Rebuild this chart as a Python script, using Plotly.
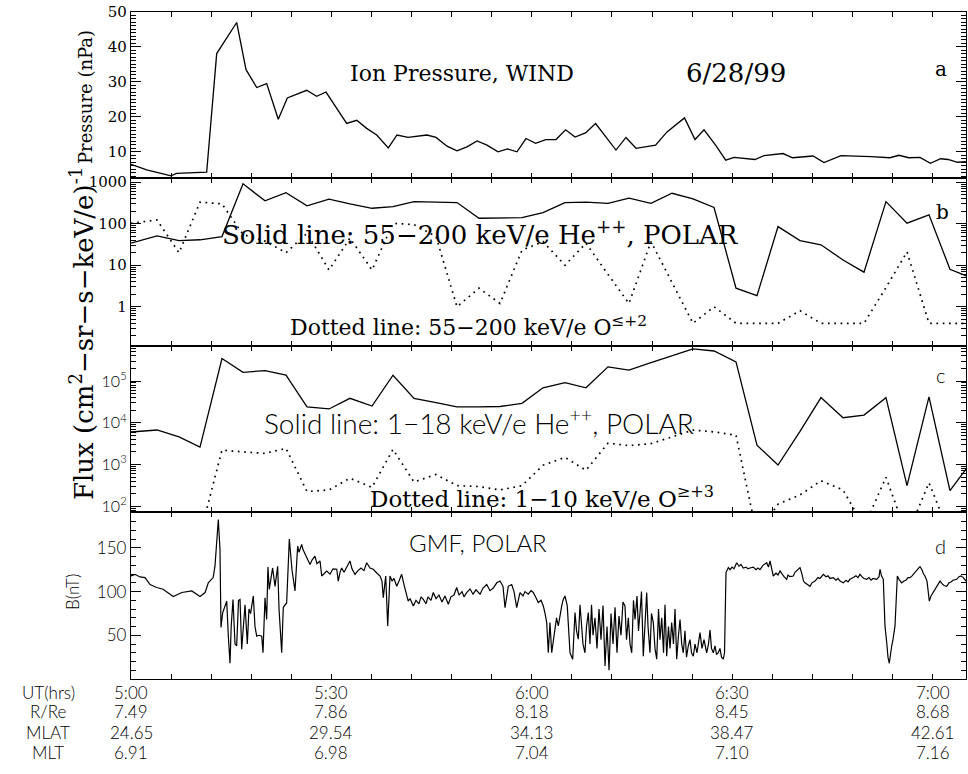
import plotly.graph_objects as go
from plotly.subplots import make_subplots

# ---------------- data (time in minutes after 05:00 UT) ----------------
pressure_time = [0.0, 2.35, 5.99, 6.84, 11.33, 12.83, 15.82, 17.22, 18.82, 20.31,
                 22.05, 23.4, 26.3, 27.8, 29.19, 32.29, 33.79, 35.28, 36.78, 38.52,
                 39.82, 41.47, 44.31, 45.66, 47.31, 48.8, 50.3, 51.8, 53.29, 54.94,
                 56.36, 57.78, 59.13, 60.57, 62.08, 63.62, 65.06, 66.47, 68.04, 69.55,
                 72.6, 74.1, 75.6, 78.53, 80.24, 81.59, 82.86, 84.43, 85.78, 87.51,
                 89.03, 90.27, 93.41, 94.76, 96.21, 97.6, 99.03, 102.1, 103.74, 105.19,
                 106.29, 110.78, 113.62, 114.97, 116.42, 118.11, 119.67, 121.2, 122.31, 123.73,
                 125.0]
pressure_npa = [6.4, 4.8, 3.1, 3.8, 4.2, 38.1, 47.0, 33.5, 28.4, 29.5,
                19.3, 25.4, 27.6, 25.9, 27.1, 18.1, 19.0, 16.7, 14.8, 11.1,
                14.8, 14.1, 14.8, 14.1, 11.6, 10.3, 11.4, 13.1, 11.9, 10.0,
                10.8, 10.0, 13.8, 12.4, 13.5, 13.5, 16.3, 14.2, 15.4, 18.1,
                10.5, 14.1, 11.0, 11.9, 15.7, 17.9, 19.7, 13.5, 16.3, 11.9,
                7.6, 8.4, 7.8, 8.9, 9.1, 9.5, 8.3, 8.8, 6.9, 8.1,
                8.9, 8.6, 8.3, 9.0, 8.3, 8.4, 6.7, 8.0, 7.8, 7.0,
                7.2]

flux_time = [0.0, 3.89, 7.19, 10.33, 13.62, 16.77, 20.06, 23.2, 26.35, 29.64,
             32.78, 36.08, 39.22, 42.37, 45.66, 48.8, 52.1, 55.24, 58.53, 61.68,
             64.97, 68.11, 71.41, 74.55, 77.84, 80.99, 84.13, 87.28, 90.57, 93.71,
             96.86, 100.15, 103.29, 106.59, 109.73, 113.02, 116.17, 119.46, 122.6, 125.75]

# 55-200 keV/e He++ (solid) and O<=+2 (dotted)
he_high_flux = [34, 51, 39, 41, 49, 910, 355, 560, 270, 390,
                300, 235, 257, 340, 330, 323, 135, 138, 140, 185,
                323, 330, 310, 410, 310, 540, 395, 245, 2.8, 1.85,
                85, 39, 31, 13.4, 6.8, 340, 103, 163, 8, 5.0]
o_high_flux = [102, 123, 20, 330, 300, 55, 38, 20, 59, 7.7,
               45, 7.7, 102, 95, 49, 1.0, 2.8, 1.2, 23, 37,
               10, 34, 6, 1.2, 37, 4, 0.4, 1.0, 0.4, 0.4,
               0.4, 0.8, 0.4, 0.4, 0.4, 2.9, 21, 0.4, 0.4, 0.4]

# 1-18 keV/e He++ (solid) and 1-10 keV/e O>=+3 (dotted)
he_low_flux = [6000, 6700, 4600, 2600, 347000, 162000, 178000, 138000, 24000, 21400,
               38500, 25100, 138000, 38500, 30200, 24000, 24000, 24500, 29200, 69000,
               91000, 69000, 219000, 182000, 275000, 407000, 589000, 525000, 288000, 2900,
               970, 6200, 40000, 13200, 15300, 40000, 310, 41700, 235, 1120]
o_low_flux = [10, 10, 10, 20, 2210, 2000, 1840, 2430, 224, 245,
              468, 282, 2290, 380, 575, 310, 295, 245, 310, 955,
              1480, 725, 3240, 2820, 3160, 4570, 6680, 6030, 5010, 20,
              112, 186, 407, 245, 32, 490, 20, 363, 20, 10]

gmf_time = [0, 0.6, 1.35, 2.1, 2.85, 3.85, 4.8, 6.33, 7.6, 9.1,
            10.33, 11.1, 11.57, 12.3, 12.57, 13.07, 13.32, 13.47, 13.73, 14.33,
            14.57, 14.82, 15.0, 15.27, 15.57, 15.82, 16.1, 16.32, 16.57, 16.84,
            17.07, 17.41, 17.66, 17.9, 18.31, 18.56, 18.82, 19.16, 19.57, 19.76,
            20.06, 20.31, 20.5, 20.7, 21.2, 21.56, 21.96, 22.16, 22.56, 22.8,
            23.3, 23.7, 24.1, 24.55, 24.95, 25.15, 25.55, 25.75, 26.05, 26.35,
            26.8, 27.1, 27.54, 27.84, 28.3, 28.55, 28.9, 29.3, 29.8, 30.24,
            30.8, 31.03, 31.29, 31.54, 31.89, 32.34, 32.78, 33.08, 33.53, 33.98,
            34.43, 34.88, 35.28, 35.78, 36.27, 36.83, 37.28, 37.57, 37.77, 38.13,
            38.43, 38.77, 39.07, 39.37, 39.78, 40.12, 40.52, 40.87, 41.17, 41.5,
            41.77, 42.26, 42.66, 43.11, 43.41, 43.76, 44.16, 44.46, 44.91, 45.25,
            45.66, 46.1, 46.56, 47.0, 47.5, 47.9, 48.35, 48.76, 49.1, 49.55,
            49.85, 50.25, 50.75, 51.2, 51.65, 52.25, 52.7, 53.25, 53.74, 54.24,
            54.75, 55.24, 55.69, 55.99, 56.48, 56.99, 57.34, 57.74, 58.23, 58.68,
            58.98, 59.48, 59.88, 60.22, 60.63, 60.97, 61.38, 61.72, 61.98, 62.23,
            62.47, 62.72, 62.98, 63.17, 63.47, 63.7, 63.97, 64.22, 64.48, 64.67,
            64.97, 65.31, 65.49, 65.72, 66.12, 66.47, 66.7, 66.96, 67.22, 67.47,
            67.66, 67.96, 68.19, 68.46, 68.71, 68.94, 69.16, 69.46, 69.76, 70.06,
            70.36, 70.66, 70.96, 71.26, 71.56, 71.86, 72.16, 72.46, 72.75, 73.05,
            73.35, 73.65, 73.95, 74.18, 74.45, 74.7, 74.96, 75.22, 75.45, 75.75,
            75.97, 76.2, 76.42, 76.69, 76.95, 77.2, 77.4, 77.69, 77.92, 78.19,
            78.44, 78.7, 78.97, 79.19, 79.45, 79.72, 79.94, 80.19, 80.46, 80.69,
            80.94, 81.21, 81.44, 81.69, 81.96, 82.19, 82.44, 82.68, 82.93, 83.16,
            83.43, 83.68, 83.91, 84.18, 84.43, 84.73, 85.18, 85.48, 85.78, 86.18,
            86.45, 86.68, 86.9, 87.17, 87.43, 87.65, 87.92, 88.17, 88.4, 88.67,
            88.85, 89.07, 89.42, 89.67, 89.97, 90.27, 90.67, 91.02, 91.32, 91.66,
            92.07, 92.37, 92.66, 93.16, 93.56, 93.86, 94.16, 94.61, 95.16, 95.43,
            95.66, 95.88, 96.15, 96.56, 96.86, 97.16, 97.46, 97.75, 98.16, 98.35,
            98.65, 99.15, 99.4, 99.7, 100.15, 100.45, 100.67, 100.9, 101.2, 101.65,
            101.95, 102.4, 102.84, 103.14, 103.64, 104.04, 104.34, 104.64, 105.14, 105.54,
            105.84, 106.14, 106.63, 107.04, 107.34, 107.63, 108.13, 108.53, 108.83, 109.13,
            109.43, 109.73, 110.13, 110.48, 110.78, 111.08, 111.63, 111.98, 112.13, 112.35,
            112.62, 112.72, 112.87, 113.13, 113.32, 113.52, 113.7, 113.88, 114.07, 114.22,
            114.37, 114.52, 114.72, 114.97, 115.37, 115.72, 116.02, 116.32, 116.62, 116.92,
            117.22, 117.51, 117.81, 118.11, 118.41, 118.64, 118.86, 119.16, 119.51, 119.76,
            120.1, 120.36, 120.66, 121.11, 121.41, 121.71, 122.11, 122.46, 122.75, 123.05,
            123.61, 123.95, 124.25, 124.6, 125.0]
gmf_nt = [117.8, 119.7, 116.7, 116, 108, 104.6, 102.6, 94.3, 98.9, 100.7,
          94.3, 98.9, 110, 116, 129, 182.5, 148, 59, 76, 89,
          49, 18, 60, 91, 40, 38, 90, 91, 34, 60,
          85, 40, 80, 75, 95, 60, 49, 50, 49, 30,
          93, 68, 128, 102.6, 127, 106, 129, 80, 30, 82,
          87, 160, 125, 100.7, 152, 145, 154, 148, 142.6, 138,
          131, 136, 140.6, 132, 135, 117.8, 121, 123.5, 120, 126,
          125.5, 112, 122, 127, 122, 129, 135, 126, 119.7, 124,
          127, 124, 133, 127, 125.5, 121, 117.8, 112, 93, 117.8,
          60.7, 117.8, 112, 115, 106, 112, 119.7, 108, 100, 89,
          92, 83.6, 90, 86, 94, 91, 86, 94, 90, 98.9,
          92, 96, 88, 95, 85.5, 94, 96, 104.6, 96, 100,
          94, 98.9, 103, 97, 102, 97, 104, 108, 101, 104,
          110, 112, 106, 81.7, 106, 108, 100, 81.7, 98.9, 95,
          100, 97, 101, 99, 93, 87.4, 90, 83.6, 75, 64.6,
          30, 64.6, 30, 40, 55, 70, 60.7, 75, 83.6, 90,
          95, 83.6, 60, 30, 22.7, 76, 55, 45.5, 85, 64.6,
          40, 30, 60, 76, 40, 85, 50, 70, 35, 80,
          45, 84, 15, 60, 10, 75, 40, 82, 30, 72,
          50, 88, 83.6, 45, 70, 40, 30, 90, 68, 95,
          55, 76, 100, 26, 70, 99, 60, 30, 75, 64.6,
          35, 22.7, 80, 45, 70, 30, 85, 26, 60, 35,
          64.6, 40, 80, 22.7, 50, 68, 40, 30, 55, 25,
          38, 45, 30, 26, 40, 30, 53, 35, 45, 30,
          40, 56, 35, 30, 38, 28, 30, 35, 25, 22.7,
          30, 121.7, 127.4, 125, 128, 126, 133, 129, 131, 127,
          128, 126, 127, 128, 125, 127, 125, 130, 133, 128,
          135, 126, 117.8, 121, 119, 123.5, 120, 117, 114, 119,
          117, 117.8, 122, 124, 127.4, 120, 112, 110, 108, 106,
          110, 112, 116, 115, 119.7, 117, 118, 115, 116, 113,
          115, 112, 110, 113, 111, 114, 116, 118, 116, 119.7,
          117, 115, 114, 116, 113, 115, 114, 117, 125.5, 118,
          114, 90, 60.7, 41.8, 25, 18, 30, 38, 45, 52,
          60.7, 85, 117.8, 114, 110, 112, 113, 116, 116, 118,
          121, 124, 126, 128.5, 125, 120, 117.8, 112, 89, 95,
          98.9, 102, 106, 112, 109, 107, 106, 110, 111, 113,
          114, 117, 118, 116, 112]

# orbit table under the time axis
ut_ticks = [0, 30, 60, 90, 120]
ut_labels = ["5:00", "5:30", "6:00", "6:30", "7:00"]
r_re = ["7.49", "7.86", "8.18", "8.45", "8.68"]
mlat = ["24.65", "29.54", "34.13", "38.47", "42.61"]
mlt = ["6.91", "6.98", "7.04", "7.10", "7.16"]
row_names = ["UT(hrs)", "R/Re", "MLAT", "MLT"]

TIME_RANGE = [0, 125]

# ---------------- figure ----------------
SERIF = "DejaVu Serif"
SANS = "Lato"
INK = "black"

fig = make_subplots(rows=4, cols=1, shared_xaxes=True, vertical_spacing=0)

line_solid = dict(color=INK, width=1.3)
line_dot = dict(color=INK, width=1.7, dash="1.7px,4.6px")

fig.add_trace(go.Scatter(x=pressure_time, y=pressure_npa, mode="lines", line=line_solid), 1, 1)
fig.add_trace(go.Scatter(x=flux_time, y=he_high_flux, mode="lines", line=line_solid), 2, 1)
fig.add_trace(go.Scatter(x=flux_time, y=o_high_flux, mode="lines", line=line_dot), 2, 1)
fig.add_trace(go.Scatter(x=flux_time, y=he_low_flux, mode="lines", line=line_solid), 3, 1)
fig.add_trace(go.Scatter(x=flux_time, y=o_low_flux, mode="lines", line=line_dot), 3, 1)
fig.add_trace(go.Scatter(x=gmf_time, y=gmf_nt, mode="lines", line=dict(color=INK, width=1.2)), 4, 1)

frame = dict(showline=True, linecolor=INK, linewidth=1.3, mirror="allticks",
             ticks="inside", tickcolor=INK, showgrid=False, zeroline=False)

xa = dict(frame, range=TIME_RANGE, tick0=0, dtick=6, ticklen=5, tickwidth=1.2,
          showticklabels=False)
for i in range(1, 5):
    fig.update_xaxes(xa, row=i, col=1)

H = 667.0  # plot-area height in px
def dom(top_px, bot_px):
    return [(679 - bot_px) / H, (679 - top_px) / H]

def minor_lin(step):
    return dict(ticks="inside", ticklen=5, dtick=step, tick0=0, tickcolor=INK, tickwidth=1)
minor_log = dict(ticks="inside", ticklen=5, dtick="D1", tickcolor=INK, tickwidth=1)

fig.update_yaxes(frame, row=1, col=1, domain=dom(12, 178), range=[2.5, 50],
                 tickvals=[10, 20, 30, 40, 50], ticklen=10, tickwidth=1.2,
                 minor=minor_lin(1), tickfont=dict(family=SERIF, size=15, color=INK))
fig.update_yaxes(frame, row=2, col=1, domain=dom(178, 346), type="log",
                 range=[-0.945, 3.10], tickvals=[1, 10, 100, 1000],
                 ticktext=["1", "10", "100", "1000"], ticklen=10, tickwidth=1.2,
                 minor=minor_log, tickfont=dict(family=SERIF, size=15, color=INK))
fig.update_yaxes(frame, row=3, col=1, domain=dom(346, 512), type="log",
                 range=[1.86, 5.84], tickvals=[1e2, 1e3, 1e4, 1e5],
                 ticktext=["10<sup>2</sup>", "10<sup>3</sup>", "10<sup>4</sup>", "10<sup>5</sup>"],
                 ticklen=10, tickwidth=1.2, minor=minor_log,
                 tickfont=dict(family=SANS, size=16, color=INK, weight=300))
fig.update_yaxes(frame, row=4, col=1, domain=dom(512, 679), range=[0, 191],
                 tickvals=[50, 100, 150], ticklen=10, tickwidth=1.2,
                 minor=minor_lin(10), tickfont=dict(family=SANS, size=17, color=INK, weight=300))

W = 835.0  # plot-area width in px
def px(xp):
    return (xp - 131) / W
def py(yp):
    return (679 - yp) / H
def tx(t):
    # time (minutes) -> paper fraction along the shared time axis
    return (t - TIME_RANGE[0]) / (TIME_RANGE[1] - TIME_RANGE[0])

ann = []
def note(text, x, y, family, size, angle=0, weight=None):
    f = dict(family=family, size=size, color=INK)
    if weight:
        f["weight"] = weight
    ann.append(dict(text=text, x=x, y=y, xref="paper", yref="paper", showarrow=False,
                    xanchor="center", yanchor="middle", textangle=angle, font=f))

# panel a
note("Ion Pressure, WIND", px(462), py(73), SERIF, 22)
note("6/28/99", px(736), py(73), SERIF, 26)
note("a", px(941), py(69), SERIF, 20)
note("Pressure (nPa)", px(86), py(97), SERIF, 18, angle=-90)
# panel b
note("Solid line: 55\u2212200 keV/e He<sup>++</sup>, POLAR", px(480), py(233), SERIF, 26)
note("Dotted line: 55\u2212200 keV/e O<sup>\u2264+2</sup>", px(468), py(326), SERIF, 22)
note("b", px(942), py(212), SERIF, 20)
note("Flux (cm<sup>2</sup>\u2212sr\u2212s\u2212keV/e)<sup>-1</sup>", px(82), py(334), SERIF, 26, angle=-90)
# panel c
note("Solid line: 1\u221218 keV/e He<sup>++</sup>, POLAR", px(479), py(421), SANS, 28, weight=300)
note("Dotted line: 1\u221210 keV/e O<sup>\u2265+3</sup>", px(542), py(497), SERIF, 23)
note("c", px(940), py(375), SANS, 20, weight=300)
# panel d
note("GMF, POLAR", px(478), py(542), SANS, 24, weight=300)
note("d", px(940), py(546), SANS, 20, weight=300)
note("B(nT)", px(72), py(592), SANS, 17, angle=-90, weight=300)

# orbit table
rows = [ut_labels, r_re, mlat, mlt]
row_y = [692, 712, 732, 752]
for name, vals, yp in zip(row_names, rows, row_y):
    note(name, px(48), py(yp), SANS, 17, weight=300)
    for t, v in zip(ut_ticks, vals):
        note(v, tx(t), py(yp), SANS, 17, weight=300)

fig.update_layout(
    width=968, height=774,
    margin=dict(l=131, r=2, t=12, b=95),
    paper_bgcolor="white", plot_bgcolor="white",
    showlegend=False,
    annotations=ann,
)

fig.write_html("out.html")
